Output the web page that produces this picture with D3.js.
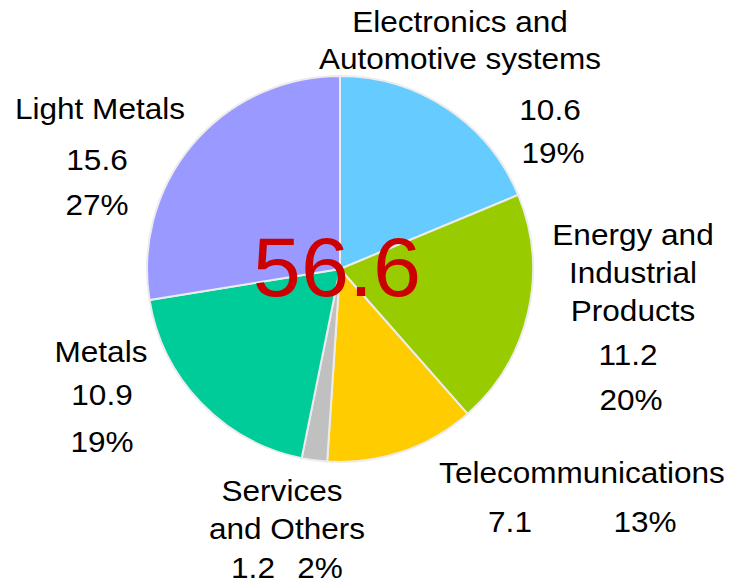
<!DOCTYPE html>
<html><head><meta charset="utf-8">
<script src="https://cdn.jsdelivr.net/npm/d3@7"></script>
<style>body{margin:0;background:#fff}svg{display:block}</style>
</head><body>
<script>
const categories = ["Electronics and Automotive systems","Energy and Industrial Products","Telecommunications","Services and Others","Metals","Light Metals"];
const values = [10.6, 11.2, 7.1, 1.2, 10.9, 15.6];
const percents = ["19%","20%","13%","2%","19%","27%"];
const colors = ["#66CCFF","#99CC00","#FFCC00","#C0C0C0","#00CC99","#9999FF"];
const totalLabel = "56.6";

const W = 734, H = 582;
const svg = d3.select("body").append("svg").attr("width", W).attr("height", H);
const cx = 340, cy = 269, R = 193;
const pie = d3.pie().sort(null).value(d => d)(values);
const arc = d3.arc().innerRadius(0).outerRadius(R);
const g = svg.append("g").attr("transform", `translate(${cx},${cy})`);
g.selectAll("path").data(pie).join("path")
  .attr("d", arc).attr("fill", (d,i) => colors[i])
  .attr("stroke", "#ececec").attr("stroke-width", 2).attr("stroke-linejoin","round");

const font = "Liberation Sans, Arial, sans-serif";
const labelLines = [
  [["Electronics and",460,32],["Automotive systems",460,69],[String(values[0]),550,120],[percents[0],553,163]],
  [["Energy and",633,245],["Industrial",633,283],["Products",633,321],[String(values[1]),628,365],[percents[1],631,410]],
  [["Telecommunications",582,483],[String(values[2]),510,532],[percents[2],645,532]],
  [["Services",282,501],["and Others",287,539],[String(values[3]),253,578],[percents[3],320,578]],
  [["Metals",101,362],[String(values[4]),102,405],[percents[4],102,452]],
  [["Light Metals",100,119],[String(values[5]),97,170],[percents[5],97,215]]
];
labelLines.forEach(lines => lines.forEach(([t,x,y]) => {
  svg.append("text").attr("transform", `translate(${x},${y}) scale(1.07,1)`).attr("text-anchor","middle")
    .attr("font-family", font).attr("font-size", 29.5).attr("fill","#000").text(t);
}));

svg.append("text").attr("transform", `translate(337,296) scale(1.03,1)`).attr("text-anchor","middle")
  .attr("font-family", font).attr("font-size", 84).attr("fill","#CC0000").text(totalLabel);
</script>
</body></html>
